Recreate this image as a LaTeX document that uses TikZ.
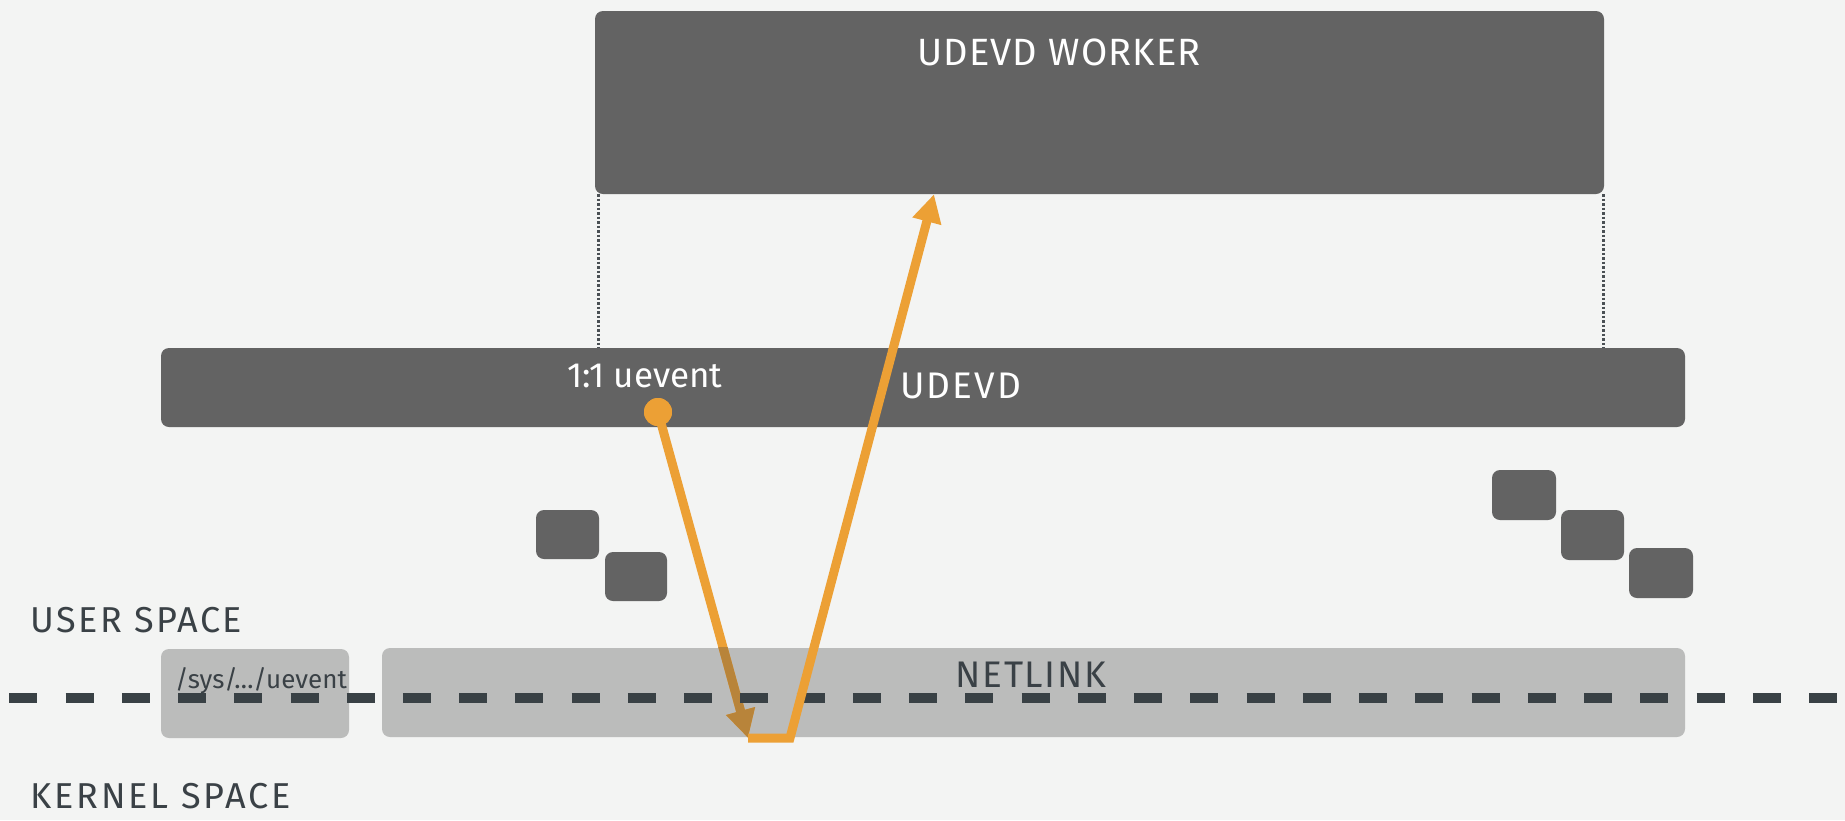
\documentclass[tikz,border=0pt]{standalone}
\usepackage{fontspec}
\setmainfont{Fira Sans}
\usetikzlibrary{arrows.meta}
\definecolor{bgc}{HTML}{F3F4F3}
\definecolor{darkbox}{HTML}{636363}
\definecolor{lightbox}{HTML}{BBBCBB}
\definecolor{dashc}{HTML}{394145}
\definecolor{textdark}{HTML}{3A4146}
\definecolor{orangec}{HTML}{ECA035}
\definecolor{brownc}{HTML}{B8843A}
\definecolor{dotc}{HTML}{4A5054}
\newcommand{\lsp}[1]{\addfontfeatures{LetterSpace=#1}}
\tikzset{
  darkrect/.style={rectangle, fill=darkbox, rounded corners=8pt, inner sep=0pt},
  lightrect/.style={rectangle, fill=lightbox, rounded corners=8pt, inner sep=0pt},
  whitetext/.style={text=white, inner sep=0pt, font=\fontsize{38}{40}\selectfont},
  darktext/.style={text=textdark, inner sep=0pt, font=\fontsize{37}{40}\selectfont},
  orangeline/.style={draw=orangec, line width=9pt},
  tipstyle/.style={-{Triangle[length=28pt,width=28pt]}},
  dotline/.style={draw=dotc, line width=3pt, dash pattern=on 2.5pt off 2pt},
  dashline/.style={draw=dashc, line width=10pt, dash pattern=on 28pt off 28.24pt},
}
\begin{document}
\begin{tikzpicture}[x=1pt,y=-1pt]
\fill[bgc] (0,0) rectangle (1845,820);
\useasboundingbox (0,0) rectangle (1845,820);
% boxes
\node[darkrect, minimum width=1009pt, minimum height=183pt] (worker) at (1099.5,102.5) {};
\node[darkrect, minimum width=1524pt, minimum height=79pt] (udevd) at (923,387.5) {};
\node[lightrect, minimum width=1303pt, minimum height=89pt] (netlink) at (1033.5,692.5) {};
\node[lightrect, minimum width=188pt, minimum height=89pt] (sys) at (255,693.5) {};
% small queue squares
\node[darkrect, minimum width=63pt, minimum height=49pt] (sa) at (567.5,534.5) {};
\node[darkrect, minimum width=62pt, minimum height=49pt] (sb) at (636,576.5) {};
\node[darkrect, minimum width=64pt, minimum height=50pt] (ra) at (1524,495) {};
\node[darkrect, minimum width=63pt, minimum height=50pt] (rb) at (1592.5,535) {};
\node[darkrect, minimum width=64pt, minimum height=50pt] (rc) at (1661,573) {};
% texts
\node[whitetext, anchor=base, font=\fontsize{38}{40}\selectfont\lsp{3}] (tworker) at (1059,65) {UDEVD WORKER};
\node[whitetext, anchor=base west, font=\fontsize{37}{40}\selectfont\lsp{6}] (tudevd) at (900,398) {UDEVD};
\node[whitetext, anchor=base west, font=\fontsize{35}{40}\selectfont] (tuevent) at (567,387) {1:1 uevent};
\node[darktext, anchor=base, font=\fontsize{37}{40}\selectfont\lsp{4.5}] (tnetlink) at (1031,687) {NETLINK};
\node[darktext, anchor=base west, font=\fontsize{36}{40}\selectfont\lsp{7}] (tuser) at (30,632) {USER SPACE};
\node[darktext, anchor=base west, font=\fontsize{36}{40}\selectfont\lsp{8}] (tkernel) at (30,808) {KERNEL SPACE};
\node[darktext, anchor=base west, font=\fontsize{26}{30}\selectfont] (tsys) at (175,688) {/sys/…/uevent};
% dotted links worker <-> udevd
\draw[dotline] ([xshift=4pt]worker.south west) -- ([xshift=4pt]worker.south west |- udevd.north);
\draw[dotline] ([xshift=-1pt]worker.south east) -- ([xshift=-1pt]worker.south east |- udevd.north);
% orange path
\node[circle, fill=orangec, minimum size=28pt, inner sep=0pt] (ev) at (658,412) {};
\coordinate (bl) at (748,738);
\coordinate (br) at (790,738);
\coordinate (tipx) at (934,0);
\draw[orangeline, tipstyle] (ev.center) -- (bl);
\begin{scope}
  \clip (netlink.north west) rectangle (netlink.south east);
  \draw[orangeline, draw=brownc, tipstyle, fill=brownc] (ev.center) -- (bl);
\end{scope}
% user/kernel boundary
\coordinate (dl) at (9.3,698);
\coordinate (dr) at (1845,698);
\draw[dashline] (dl) -- (dr);
\draw[orangeline, tipstyle] (bl) -- (br) -- (tipx |- worker.south);
\node[circle, fill=orangec, minimum size=28pt, inner sep=0pt] at (ev) {};
\end{tikzpicture}
\end{document}
